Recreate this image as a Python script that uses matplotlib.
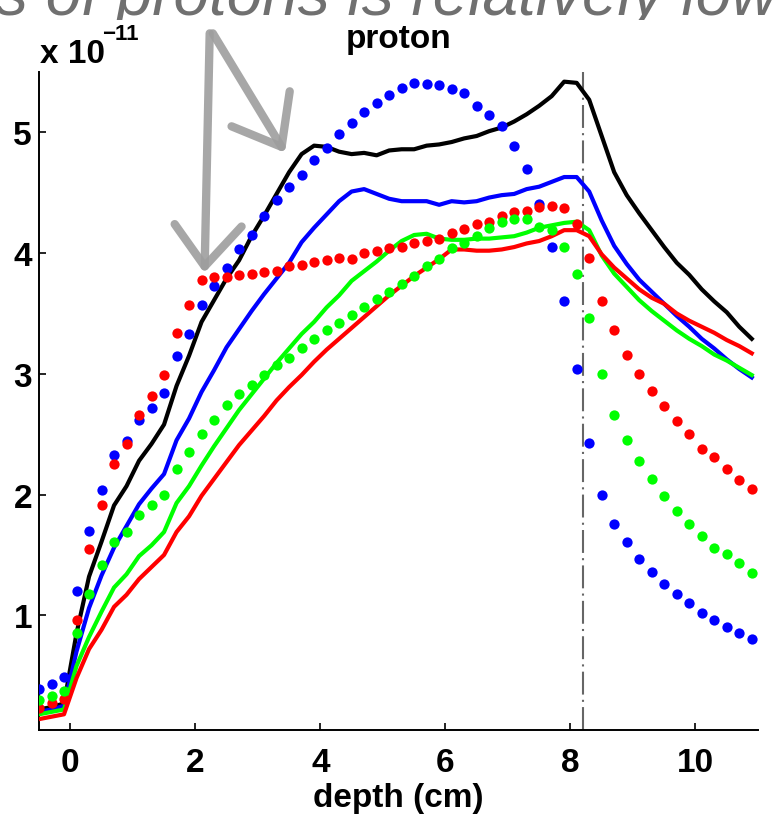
import numpy as np
import matplotlib
matplotlib.use("Agg")
import matplotlib.pyplot as plt
from matplotlib.transforms import Bbox

# ---------------- data (units of 1e-11) ----------------
depth = np.round(np.arange(-0.5, 10.95, 0.2), 1)  # -0.5 ... 10.9

black_line = [0.22, 0.24, 0.27, 0.85, 1.32, 1.61, 1.91, 2.07, 2.28, 2.42, 2.58, 2.90, 3.15, 3.43,
              3.61, 3.79, 3.94, 4.14, 4.31, 4.49, 4.67, 4.82, 4.89, 4.88, 4.84, 4.82, 4.83, 4.81,
              4.85, 4.86, 4.86, 4.89, 4.90, 4.92, 4.95, 4.97, 5.01, 5.04, 5.09, 5.15, 5.22, 5.30,
              5.42, 5.41, 5.27, 4.97, 4.67, 4.48, 4.33, 4.19, 4.05, 3.92, 3.82, 3.70, 3.60, 3.51,
              3.39, 3.29]
blue_line = [0.20, 0.22, 0.25, 0.70, 1.06, 1.33, 1.56, 1.74, 1.92, 2.05, 2.17, 2.45, 2.63, 2.85,
             3.03, 3.22, 3.37, 3.52, 3.66, 3.79, 3.92, 4.09, 4.21, 4.32, 4.43, 4.51, 4.53, 4.49,
             4.45, 4.43, 4.43, 4.43, 4.40, 4.43, 4.42, 4.43, 4.46, 4.48, 4.49, 4.53, 4.55, 4.59,
             4.63, 4.63, 4.51, 4.27, 4.06, 3.91, 3.78, 3.68, 3.58, 3.48, 3.39, 3.29, 3.21, 3.12,
             3.04, 2.97]
green_line = [0.18, 0.20, 0.22, 0.58, 0.82, 1.03, 1.23, 1.34, 1.49, 1.58, 1.69, 1.93, 2.07, 2.24,
              2.40, 2.55, 2.70, 2.83, 2.96, 3.09, 3.21, 3.33, 3.43, 3.55, 3.65, 3.77, 3.85, 3.93,
              4.02, 4.10, 4.15, 4.16, 4.12, 4.11, 4.11, 4.12, 4.12, 4.13, 4.14, 4.17, 4.21, 4.23,
              4.25, 4.26, 4.19, 3.98, 3.83, 3.72, 3.61, 3.52, 3.44, 3.36, 3.29, 3.23, 3.16, 3.11,
              3.05, 2.99]
red_line = [0.14, 0.16, 0.18, 0.48, 0.72, 0.88, 1.07, 1.17, 1.30, 1.40, 1.50, 1.69, 1.82, 1.99,
            2.13, 2.27, 2.41, 2.53, 2.65, 2.78, 2.89, 2.99, 3.10, 3.20, 3.29, 3.38, 3.47, 3.56,
            3.65, 3.73, 3.81, 3.88, 3.95, 4.03, 4.03, 4.02, 4.02, 4.03, 4.05, 4.08, 4.10, 4.14,
            4.19, 4.19, 4.14, 3.99, 3.88, 3.79, 3.70, 3.63, 3.58, 3.50, 3.44, 3.39, 3.34, 3.28,
            3.23, 3.17]

blue_dots = [0.39, 0.43, 0.49, 1.20, 1.70, 2.04, 2.33, 2.44, 2.62, 2.72, 2.84, 3.15, 3.33, 3.57,
             3.73, 3.88, 4.03, 4.15, 4.31, 4.44, 4.55, 4.65, 4.77, 4.87, 4.99, 5.08, 5.17, 5.24,
             5.31, 5.37, 5.41, 5.40, 5.39, 5.36, 5.33, 5.22, 5.14, 5.05, 4.89, 4.70, 4.41, 4.05,
             3.60, 3.04, 2.43, 2.00, 1.76, 1.61, 1.47, 1.36, 1.26, 1.18, 1.10, 1.02, 0.96, 0.90,
             0.85, 0.80]
red_dots = [0.23, 0.27, 0.31, 0.96, 1.55, 1.91, 2.25, 2.42, 2.66, 2.82, 2.99, 3.34, 3.57, 3.78,
            3.80, 3.80, 3.82, 3.83, 3.84, 3.85, 3.89, 3.90, 3.93, 3.94, 3.96, 3.95, 4.00, 4.02,
            4.04, 4.05, 4.08, 4.10, 4.12, 4.17, 4.20, 4.24, 4.26, 4.31, 4.34, 4.35, 4.38, 4.39,
            4.37, 4.24, 3.96, 3.60, 3.36, 3.16, 3.00, 2.86, 2.73, 2.61, 2.50, 2.38, 2.31, 2.21,
            2.12, 2.05]
green_dots = [0.30, 0.33, 0.37, 0.85, 1.18, 1.42, 1.61, 1.69, 1.83, 1.91, 2.00, 2.21, 2.35, 2.50,
              2.62, 2.74, 2.83, 2.91, 2.99, 3.07, 3.13, 3.21, 3.29, 3.36, 3.42, 3.49, 3.55, 3.62,
              3.68, 3.74, 3.81, 3.89, 3.95, 4.04, 4.08, 4.14, 4.21, 4.26, 4.28, 4.28, 4.22, 4.19,
              4.05, 3.83, 3.46, 3.00, 2.66, 2.45, 2.28, 2.13, 1.99, 1.86, 1.76, 1.66, 1.56, 1.51,
              1.43, 1.35]

peak_depth = 8.2
x_ticks = [0, 2, 4, 6, 8, 10]
y_ticks = [1, 2, 3, 4, 5]
title = "proton"
xlabel = "depth (cm)"
overlay_text = "s of protons is relatively low"

# ---------------- figure ----------------
W, H = 780, 820
fig = plt.figure(figsize=(W / 100, H / 100), dpi=100)
plt.rcParams['font.family'] = ['Liberation Sans', 'DejaVu Sans']

ax = fig.add_axes([39 / W, 1 - 731 / H, (758 - 39) / W, (731 - 73) / H])

lw = 3.0
ax.plot(depth, black_line, color='black', lw=lw, zorder=3)
ax.plot(depth, blue_line, color=(0, 0, 1), lw=lw, zorder=3)
ax.plot(depth, green_line, color=(0, 1, 0), lw=lw, zorder=3)
ax.plot(depth, red_line, color=(1, 0, 0), lw=lw, zorder=3)

ms = 7.4
ax.plot(depth, blue_dots, 'o', color=(0, 0, 1), ms=ms, mec='none', zorder=4)
ax.plot(depth, red_dots, 'o', color=(1, 0, 0), ms=ms, mec='none', zorder=4)
ax.plot(depth, green_dots, 'o', color=(0, 1, 0), ms=ms, mec='none', zorder=4)

ax.axvline(peak_depth, color=(0.4, 0.4, 0.4), lw=1.5, ls=(0, (11, 2.5, 1, 2.5)), zorder=2)

ax.set_xlim(-0.5, 11.0)
ax.set_ylim(0.05, 5.5)
ax.set_xticks(x_ticks)
ax.set_yticks(y_ticks)
ax.set_xticklabels([str(v) for v in x_ticks])
ax.set_yticklabels([str(v) for v in y_ticks])

for s in ['top', 'right']:
    ax.spines[s].set_visible(False)
for s in ['left', 'bottom']:
    ax.spines[s].set_linewidth(1.4)

ax.tick_params(axis='both', direction='in', length=5, width=1.2, labelsize=24)
ax.tick_params(axis='x', pad=12)
ax.tick_params(axis='y', pad=5)
for lab in ax.get_xticklabels() + ax.get_yticklabels():
    lab.set_fontweight('bold')

ax.set_title(title, fontsize=24, fontweight='bold', pad=18)
ax.set_xlabel(xlabel, fontsize=24, fontweight='bold', labelpad=3)

# exponent label "x 10^-11"
fig.text(40 / W, 1 - 63 / H, "x 10", fontsize=24, fontweight='bold', va='baseline', ha='left')
fig.text(102 / W, 1 - 40 / H, "\u221211", fontsize=16, fontweight='bold', va='baseline', ha='left')

# gray hand-drawn arrows (decoration)
gray = (0.62, 0.62, 0.62)
arrow_kw = dict(color=gray, lw=6, solid_capstyle='round', solid_joinstyle='round',
                clip_on=False, zorder=1, alpha=0.9)
ax.plot([2.23, 2.15], [5.82, 3.89], **arrow_kw)
ax.plot([1.67, 2.15, 2.74], [4.24, 3.89, 4.22], **arrow_kw)
ax.plot([2.28, 3.38], [5.82, 4.88], **arrow_kw)
ax.plot([2.58, 3.38, 3.51], [5.05, 4.88, 5.34], **arrow_kw)

# overlaid slide text, cut off by the chart area
t = fig.text(-4 / W, 1 - 15 / H, overlay_text, fontsize=46, style='italic',
             color=(0.44, 0.44, 0.44), va='baseline', ha='left')
t.set_clip_box(Bbox.from_extents(0, H - 21, W, H))
t.set_clip_on(True)

fig.savefig("out.png", dpi=100)
